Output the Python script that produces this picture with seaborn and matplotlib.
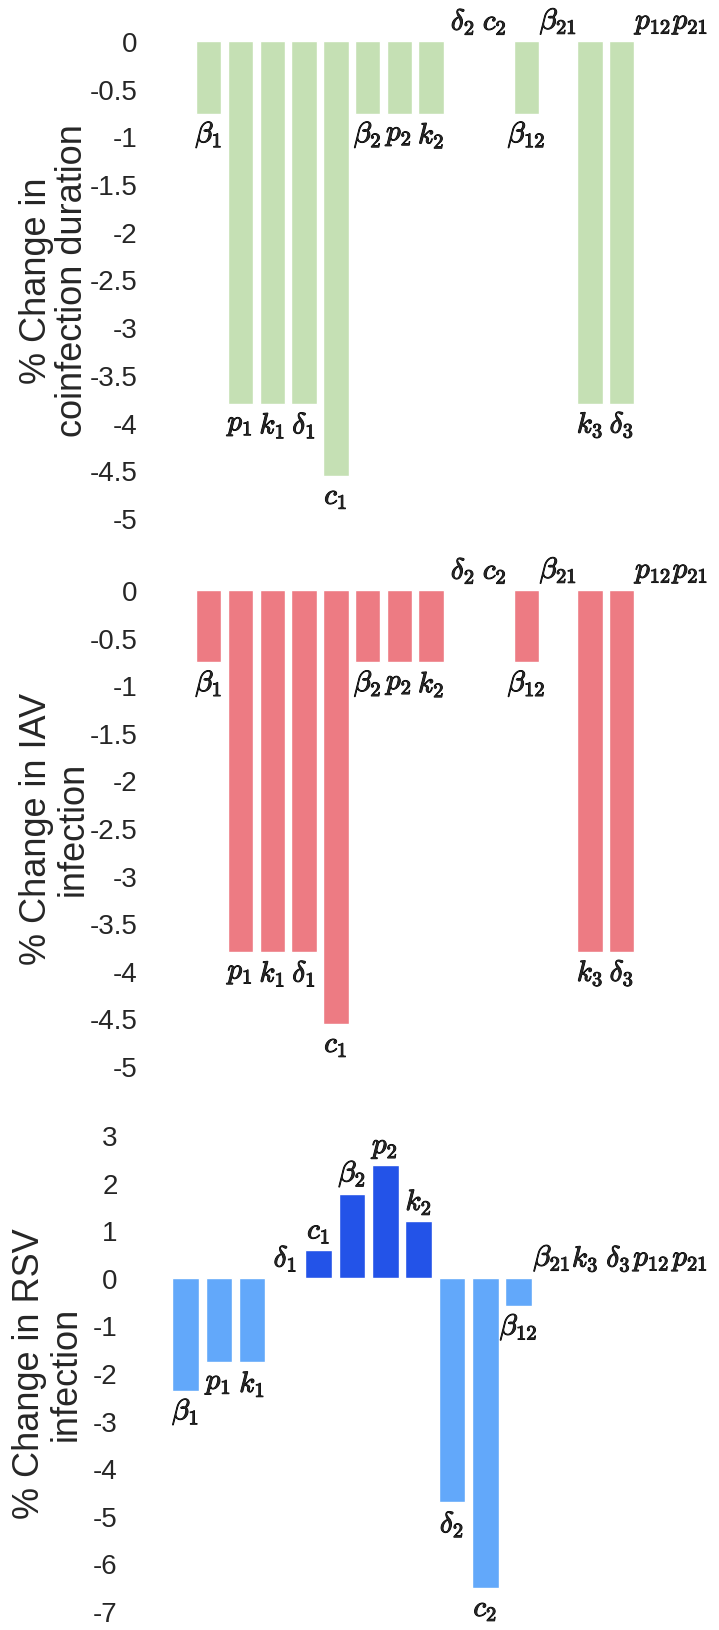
import matplotlib
matplotlib.use("Agg")
import matplotlib.pyplot as plt
import matplotlib.patheffects as pe
import seaborn as sns
import numpy as np

params = [r"$\beta_1$", r"$p_1$", r"$k_1$", r"$\delta_1$", r"$c_1$",
          r"$\beta_2$", r"$p_2$", r"$k_2$", r"$\delta_2$", r"$c_2$",
          r"$\beta_{12}$", r"$\beta_{21}$", r"$k_3$", r"$\delta_3$",
          r"$p_{12}$", r"$p_{21}$"]

coinf_vals = [-0.76, -3.8, -3.8, -3.8, -4.56, -0.76, -0.76, -0.76,
              0, 0, -0.76, 0, -3.8, -3.8, 0, 0]
iav_vals = [-0.76, -3.8, -3.8, -3.8, -4.56, -0.76, -0.76, -0.76,
            0, 0, -0.76, 0, -3.8, -3.8, 0, 0]
rsv_vals = [-2.37, -1.77, -1.77, 0, 0.59, 1.77, 2.36, 1.19,
            -4.72, -6.52, -0.59, 0, 0, 0, 0, 0]

ylabels = ["% Change in\ncoinfection duration",
           "% Change in IAV\ninfection",
           "% Change in RSV\ninfection"]
ticks_top = [0, -0.5, -1, -1.5, -2, -2.5, -3, -3.5, -4, -4.5, -5]
tick_labels_top = ["0", "-0.5", "-1", "-1.5", "-2", "-2.5", "-3", "-3.5", "-4", "-4.5", "-5"]
ticks_rsv = [3, 2, 1, 0, -1, -2, -3, -4, -5, -6, -7]

green = "#c5e0b4"
red = "#ed7b83"
light_blue = "#62a8fa"
dark_blue = "#2353e8"

sns.set_style("white")
plt.rcParams["font.family"] = ["Liberation Sans", "DejaVu Sans"]
plt.rcParams["mathtext.fontset"] = "cm"

W, H = 719, 1631
fig = plt.figure(figsize=(W / 100, H / 100), dpi=100)


def make_ax(left, width, y_top, y_bot):
    # pixel coords -> figure fraction
    return fig.add_axes([left / W, 1 - y_bot / H, width / W, (y_bot - y_top) / H])


ax1 = make_ax(192.9, 508.3, 42, 519)
ax2 = make_ax(192.9, 508.3, 591, 1067)
ax3 = make_ax(168.9, 532.8, 1136, 1612)

panels = [
    (ax1, coinf_vals, [green] * 16, (-5, 0), ticks_top, tick_labels_top, 40),
    (ax2, iav_vals, [red] * 16, (-5, 0), ticks_top, tick_labels_top, 40),
    (ax3, rsv_vals, [dark_blue if v > 0 else light_blue for v in rsv_vals], (-7, 3),
     ticks_rsv, [str(t) for t in ticks_rsv], 37),
]

bold = [pe.withStroke(linewidth=0.7, foreground="black")]

for ax, vals, cols, ylim, ticks, tlabels, pad in panels:
    sns.barplot(x=params, y=vals, hue=params, palette=cols, legend=False,
                width=0.8, saturation=1, ax=ax)
    ax.set_xlim(-0.5, 15.5)
    ax.set_ylim(*ylim)
    ax.set_yticks(ticks)
    ax.set_yticklabels(tlabels, fontsize=20)
    ax.tick_params(axis="y", length=0, pad=pad)
    ax.set_xticks([])
    ax.set_xlabel("")
    sns.despine(ax=ax, left=True, bottom=True)
    for i, v in enumerate(vals):
        dx = 4 if i == len(vals) - 1 else 0  # last label sits a bit to the right
        if v < 0:
            ax.annotate(params[i], (i, v), xytext=(dx, -5), textcoords="offset points",
                        ha="center", va="top", fontsize=21, annotation_clip=False,
                        path_effects=bold)
        else:
            ax.annotate(params[i], (i, v), xytext=(dx, 3), textcoords="offset points",
                        ha="center", va="bottom", fontsize=21, annotation_clip=False,
                        path_effects=bold)

for ax, lab, lx in [(ax1, ylabels[0], -0.272), (ax2, ylabels[1], -0.272), (ax3, ylabels[2], -0.227)]:
    ax.set_ylabel(lab, fontsize=26, linespacing=1.05)
    ax.yaxis.label.set_va("center")
    ax.yaxis.set_label_coords(lx, 0.5)

fig.savefig("out.png", dpi=100)
